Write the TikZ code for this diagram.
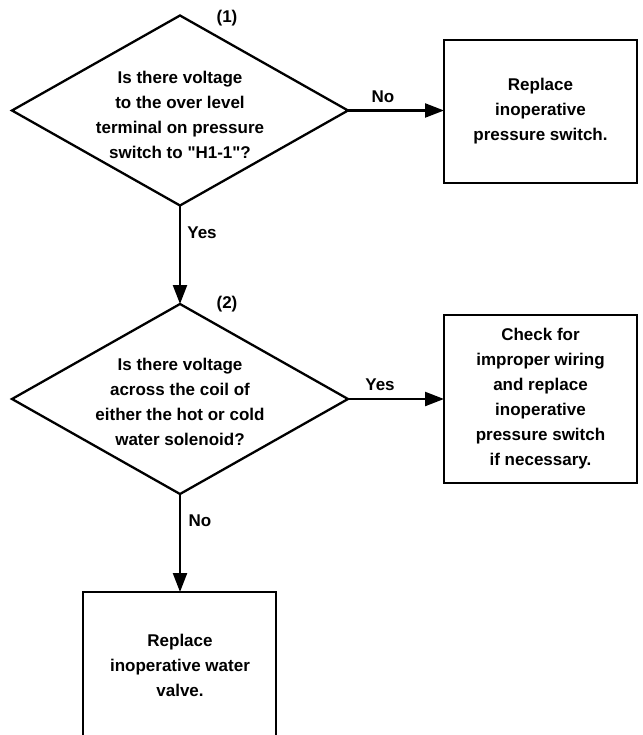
\documentclass[tikz,border=0pt]{standalone}
\usepackage{fontspec}
\setmainfont{Liberation Sans}[Ligatures=TeXOff]
\usetikzlibrary{shapes.geometric,arrows.meta}
\tikzset{
  decision/.style={diamond, draw, line width=2.3pt, minimum width=336pt,
    minimum height=190pt, inner sep=0pt, outer sep=0pt},
  actionbox/.style={rectangle, draw, line width=2.8pt, minimum width=193pt,
    inner sep=0pt, outer sep=0pt, align=center},
  txt/.style={align=center, inner sep=0pt},
  tag/.style={inner sep=0pt},
  flow/.style={line width=2.3pt, -{Triangle[length=19pt,width=14pt]}}
}
\begin{document}
\begin{tikzpicture}[x=1pt,y=-1pt,font=\fontsize{17}{25}\selectfont\bfseries]
\clip (0,0) rectangle (642,735);
\useasboundingbox (0,0) rectangle (642,735);

% first question
\node[decision] (d1) at (180,110.5) {};
\node[txt] (q1) at (180,115) {Is there voltage\\to the over level\\terminal on pressure\\ switch to "H1-1"?};
\node[tag] (n1) at (227,18) {(1)};

% second question
\node[decision] (d2) at (180,399) {};
\node[txt] (q2) at (180,402) {Is there voltage\\across the coil of\\either the hot or cold\\water solenoid?};
\node[tag] (n2) at (227,304) {(2)};

% actions
\node[actionbox, minimum height=143pt] (b1) at (540.5,111.5) {Replace\\inoperative\\pressure switch.};
\node[actionbox, minimum height=168pt] (b2) at (540.5,399) {Check for\\improper wiring\\and replace\\inoperative\\pressure switch\\ if necessary.};
\node[actionbox, minimum height=170pt] (b3) at (179.5,677) {};
\node[txt] (t3) at (180,665) {Replace\\inoperative water\\valve.};

% connectors
\draw[flow] (d1.east) -- (b1.west |- d1.east);
\draw[flow] (d1.south) -- (d2.north);
\draw[flow] (d2.east) -- (b2.west);
\draw[flow] (d2.south) -- (b3.north -| d2.south);

% branch labels
\node[tag] (l1) at (383,97) {No};
\node[tag] (l2) at (202,233) {Yes};
\node[tag] (l3) at (380,385) {Yes};
\node[tag] (l4) at (200,521) {No};
\end{tikzpicture}
\end{document}
